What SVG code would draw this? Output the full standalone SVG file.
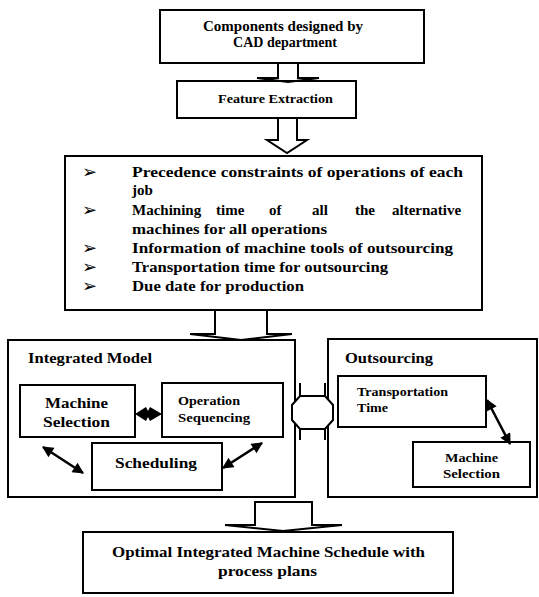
<svg xmlns="http://www.w3.org/2000/svg" width="539" height="597" viewBox="0 0 539 597">
  <style>
    .box { fill: #fff; stroke: #000; stroke-width: 2; }
    .t { font-family: "Liberation Serif", "Times New Roman", serif; font-weight: bold; fill: #000; }
    .bul { font-family: "DejaVu Sans", sans-serif; font-size: 18px; fill: #000; }
    .hollow { fill: none; stroke: #000; stroke-width: 2; stroke-linejoin: miter; }
    .dbl { fill: none; stroke: #000; stroke-width: 2.5; marker-start: url(#ah); marker-end: url(#ah); }
  </style>
  <defs>
    <marker id="ah" viewBox="0 0 10 10" refX="9" refY="5" markerWidth="5" markerHeight="4.5" markerUnits="strokeWidth" orient="auto-start-reverse">
      <path d="M0,0 L10,5 L0,10 Z" fill="#000"/>
    </marker>
  </defs>
  <rect width="539" height="597" fill="#fff"/>

  <!-- nodes -->
  <g id="cad">
    <rect class="box" x="160" y="10" width="264" height="53"/>
    <text class="t" x="203" y="31" font-size="15" textLength="160" lengthAdjust="spacingAndGlyphs">Components designed by</text>
    <text class="t" x="233" y="47" font-size="15" textLength="104" lengthAdjust="spacingAndGlyphs">CAD department</text>
  </g>

  <g id="feature">
    <rect class="box" x="177" y="81" width="179" height="37"/>
    <text class="t" x="218" y="103" font-size="13" textLength="115" lengthAdjust="spacingAndGlyphs">Feature Extraction</text>
  </g>

  <g id="inputs">
    <rect class="box" x="65" y="156" width="417" height="154"/>
    <text class="bul" x="82" y="178">➢</text>
    <text class="bul" x="82" y="216">➢</text>
    <text class="bul" x="82" y="254">➢</text>
    <text class="bul" x="82" y="273">➢</text>
    <text class="bul" x="82" y="292">➢</text>
    <text class="t" x="132" y="177" font-size="15" textLength="331" lengthAdjust="spacingAndGlyphs">Precedence constraints of operations of each</text>
    <text class="t" x="132" y="195" font-size="15">job</text>
    <text class="t" font-size="15" y="215">
      <tspan x="132">Machining</tspan>
      <tspan x="216">time</tspan>
      <tspan x="269">of</tspan>
      <tspan x="312">all</tspan>
      <tspan x="355">the</tspan>
      <tspan x="392">alternative</tspan>
    </text>
    <text class="t" x="132" y="234" font-size="15" textLength="195" lengthAdjust="spacingAndGlyphs">machines for all operations</text>
    <text class="t" x="132" y="253" font-size="15" textLength="321" lengthAdjust="spacingAndGlyphs">Information of machine tools of outsourcing</text>
    <text class="t" x="132" y="272" font-size="15" textLength="256" lengthAdjust="spacingAndGlyphs">Transportation time for outsourcing</text>
    <text class="t" x="132" y="291" font-size="15" textLength="172" lengthAdjust="spacingAndGlyphs">Due date for production</text>
  </g>

  <g id="integrated-model">
    <rect class="box" x="8" y="340" width="287" height="157"/>
    <text class="t" x="28" y="363" font-size="15" textLength="124" lengthAdjust="spacingAndGlyphs">Integrated Model</text>
  </g>

  <g id="machine-selection">
    <rect class="box" x="20" y="385" width="115" height="52"/>
    <text class="t" x="45" y="408" font-size="15" textLength="63" lengthAdjust="spacingAndGlyphs">Machine</text>
    <text class="t" x="43" y="427" font-size="15" textLength="67" lengthAdjust="spacingAndGlyphs">Selection</text>
  </g>

  <g id="operation-sequencing">
    <rect class="box" x="162" y="383" width="121" height="54"/>
    <text class="t" x="178" y="405" font-size="13" textLength="62" lengthAdjust="spacingAndGlyphs">Operation</text>
    <text class="t" x="178" y="422" font-size="13" textLength="72" lengthAdjust="spacingAndGlyphs">Sequencing</text>
  </g>

  <g id="scheduling">
    <rect class="box" x="92" y="443" width="130" height="47"/>
    <text class="t" x="115" y="468" font-size="15" textLength="82" lengthAdjust="spacingAndGlyphs">Scheduling</text>
  </g>

  <g id="outsourcing">
    <rect class="box" x="328" y="339" width="209" height="158"/>
    <text class="t" x="345" y="363" font-size="15" textLength="88" lengthAdjust="spacingAndGlyphs">Outsourcing</text>
  </g>

  <g id="transportation-time">
    <rect class="box" x="338" y="376" width="148" height="51"/>
    <text class="t" x="357" y="396" font-size="13" textLength="91" lengthAdjust="spacingAndGlyphs">Transportation</text>
    <text class="t" x="357" y="412" font-size="13" textLength="31" lengthAdjust="spacingAndGlyphs">Time</text>
  </g>

  <g id="outsourcing-machine-selection">
    <rect class="box" x="413" y="442" width="117" height="45"/>
    <text class="t" x="445" y="462" font-size="12" textLength="53" lengthAdjust="spacingAndGlyphs">Machine</text>
    <text class="t" x="443" y="478" font-size="12" textLength="57" lengthAdjust="spacingAndGlyphs">Selection</text>
  </g>

  <g id="optimal-schedule">
    <rect class="box" x="83" y="532" width="370" height="61"/>
    <text class="t" x="112" y="557" font-size="15" textLength="313" lengthAdjust="spacingAndGlyphs">Optimal Integrated Machine Schedule with</text>
    <text class="t" x="218" y="576" font-size="15" textLength="99" lengthAdjust="spacingAndGlyphs">process plans</text>
  </g>

  <!-- connectors -->
  <g id="connectors">
    <!-- block arrows between stages -->
    <path class="hollow" d="M278,63 V78 H257 L288,82 L319,78 H298 V63"/>
    <path class="hollow" d="M278,118 V140 H267 L287,153 L307,140 H297 V118"/>
    <path class="hollow" d="M215,310 V334 H190 L241,340 L292,334 H267 V310"/>
    <path class="hollow" d="M255,502 H312 V525 H342 L283,531 L225,525 H255 Z"/>
    <!-- two-way block link between the model and outsourcing -->
    <path class="hollow" d="M300,383 V440 M325,383 V440" stroke-width="3"/>
    <path d="M300,396 H325 L333,405 V420 L325,429 H300 L292,420 V405 Z" fill="#fff" stroke="#000" stroke-width="2"/>
    <!-- two-way arrows inside the boxes -->
    <path d="M135,414 L146,407 L148,411 L150,407 L162,414 L150,421 L148,417 L146,421 Z" fill="#000"/>
    <line class="dbl" x1="43" y1="447" x2="83" y2="473"/>
    <line class="dbl" x1="223" y1="468" x2="262" y2="443"/>
    <line class="dbl" x1="487" y1="400" x2="510" y2="444"/>
  </g>
</svg>
